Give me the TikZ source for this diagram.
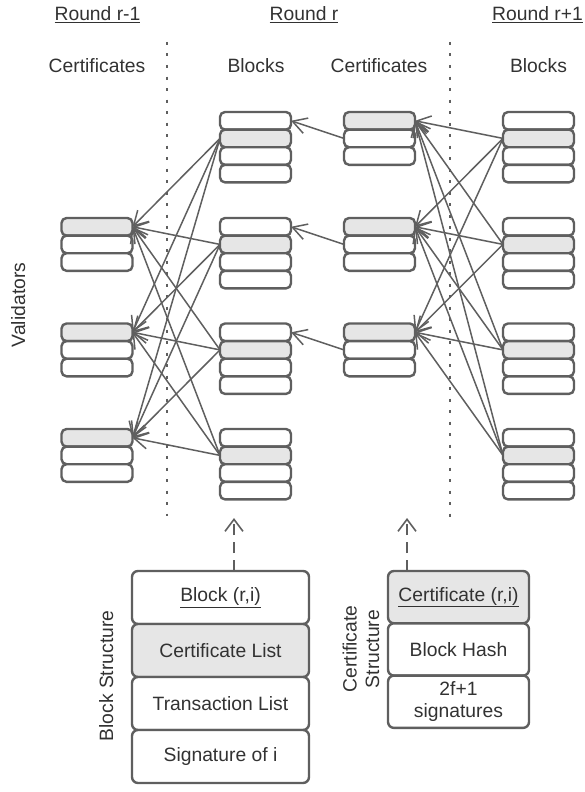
\documentclass[tikz,border=0pt]{standalone}
\usepackage{fontspec}
\setmainfont{Liberation Sans}
\usetikzlibrary{arrows.meta,positioning}
\definecolor{edgegray}{RGB}{95,95,95}
\definecolor{cellgray}{RGB}{230,230,230}
\definecolor{textgray}{RGB}{50,50,50}

\begin{document}
\begin{tikzpicture}[x=1pt,y=-1pt,every node/.style={font=\fontsize{19.3}{22.5}\selectfont, text=textgray}]
\tikzstyle{cell} = [draw=edgegray, fill=white, line width=2.4pt, rounded corners=5pt, minimum width=71pt, minimum height=17.6pt, inner sep=0pt, outer sep=0pt]
\tikzstyle{hot} = [fill=cellgray]
\tikzstyle{link} = [draw=edgegray, line width=1.5pt, -{Straight Barb[length=14pt,width=16pt]}]
\tikzstyle{pointer} = [draw=edgegray, line width=1.6pt, dash pattern=on 11pt off 7pt, -{Straight Barb[length=12pt,width=18pt]}]
\tikzstyle{divider} = [draw=edgegray, line width=1.8pt, dash pattern=on 3pt off 8.5pt]
\tikzset{field/.style={cell, minimum width=177pt, minimum height=53pt, rounded corners=6pt, align=center}}
\useasboundingbox (0,0) rectangle (585,792);

% headers
\node[anchor=base] (hprev) at (97.5,20.5) {\underline{Round r-1}};
\node[anchor=base] (hcur) at (304,20.5) {\underline{Round r}};
\node[anchor=base] (hnext) at (537.5,20.5) {\underline{Round r+1}};
\node[anchor=base] (tprev) at (97,73) {Certificates};
\node[anchor=base] (tblk) at (256,73) {Blocks};
\node[anchor=base] (tcert) at (379,73) {Certificates};
\node[anchor=base] (tnext) at (538.5,73) {Blocks};
\node[rotate=90,anchor=base] (val) at (25,305) {Validators};

% round separators
\draw[divider] (167,42) -- (167,516);
\draw[divider] (450,42) -- (450,520);

% certificates of round r-1
\foreach \i/\y in {1/218,2/323.5,3/429}{
  \node[cell,hot,anchor=north] (pc\i-1) at (97,\y) {};
  \node[cell,below=0pt of pc\i-1] (pc\i-2) {};
  \node[cell,below=0pt of pc\i-2] (pc\i-3) {};
}
% blocks of round r and r+1
\foreach \i/\y in {1/112,2/218,3/323.5,4/429}{
  \node[cell,anchor=north] (bl\i-1) at (255.5,\y) {};
  \node[cell,hot,below=0pt of bl\i-1] (bl\i-2) {};
  \node[cell,below=0pt of bl\i-2] (bl\i-3) {};
  \node[cell,below=0pt of bl\i-3] (bl\i-4) {};
  \node[cell,anchor=north] (nb\i-1) at (538.5,\y) {};
  \node[cell,hot,below=0pt of nb\i-1] (nb\i-2) {};
  \node[cell,below=0pt of nb\i-2] (nb\i-3) {};
  \node[cell,below=0pt of nb\i-3] (nb\i-4) {};
}
% certificates of round r
\foreach \i/\y in {1/112,2/218,3/323.5}{
  \node[cell,hot,anchor=north] (ce\i-1) at (379.5,\y) {};
  \node[cell,below=0pt of ce\i-1] (ce\i-2) {};
  \node[cell,below=0pt of ce\i-2] (ce\i-3) {};
}

% references between rounds
\foreach \j in {1,...,4}{
  \foreach \k in {1,2,3}{
    \draw[link] (bl\j-2.west) -- (pc\k-1.east);
    \draw[link] (nb\j-2.west) -- (ce\k-1.east);
  }
}
\foreach \k in {1,2,3}
  \draw[link] (ce\k-2.west) -- (bl\k-1.east);

% block structure
\node[field,anchor=north] (bs1) at (220.5,571) {\underline{Block (r,i)}};
\node[field,hot,below=0pt of bs1] (bs2) {Certificate List};
\node[field,below=0pt of bs2] (bs3) {Transaction List};
\node[field,below=0pt of bs3] (bs4) {Signature of i};
\node[rotate=90,anchor=base] (bslabel) at (113,676) {Block Structure};

% certificate structure
\tikzset{cfield/.style={field, minimum width=141pt, minimum height=52.3pt}}
\node[cfield,hot,anchor=north] (cs1) at (458.5,571) {\underline{Certificate (r,i)}};
\node[cfield,below=0pt of cs1] (cs2) {Block Hash};
\node[cfield,below=0pt of cs2] (cs3) {2f+1\\signatures};
\node[rotate=90,align=center] (cslabel) at (361,649) {Certificate\\Structure};

% pointers up to the rounds
\coordinate (bsup) at (234,518);
\coordinate (csup) at (407,518);
\draw[pointer] (bs1.north -| bsup) -- (bsup);
\draw[pointer] (cs1.north -| csup) -- (csup);
\end{tikzpicture}
\end{document}
